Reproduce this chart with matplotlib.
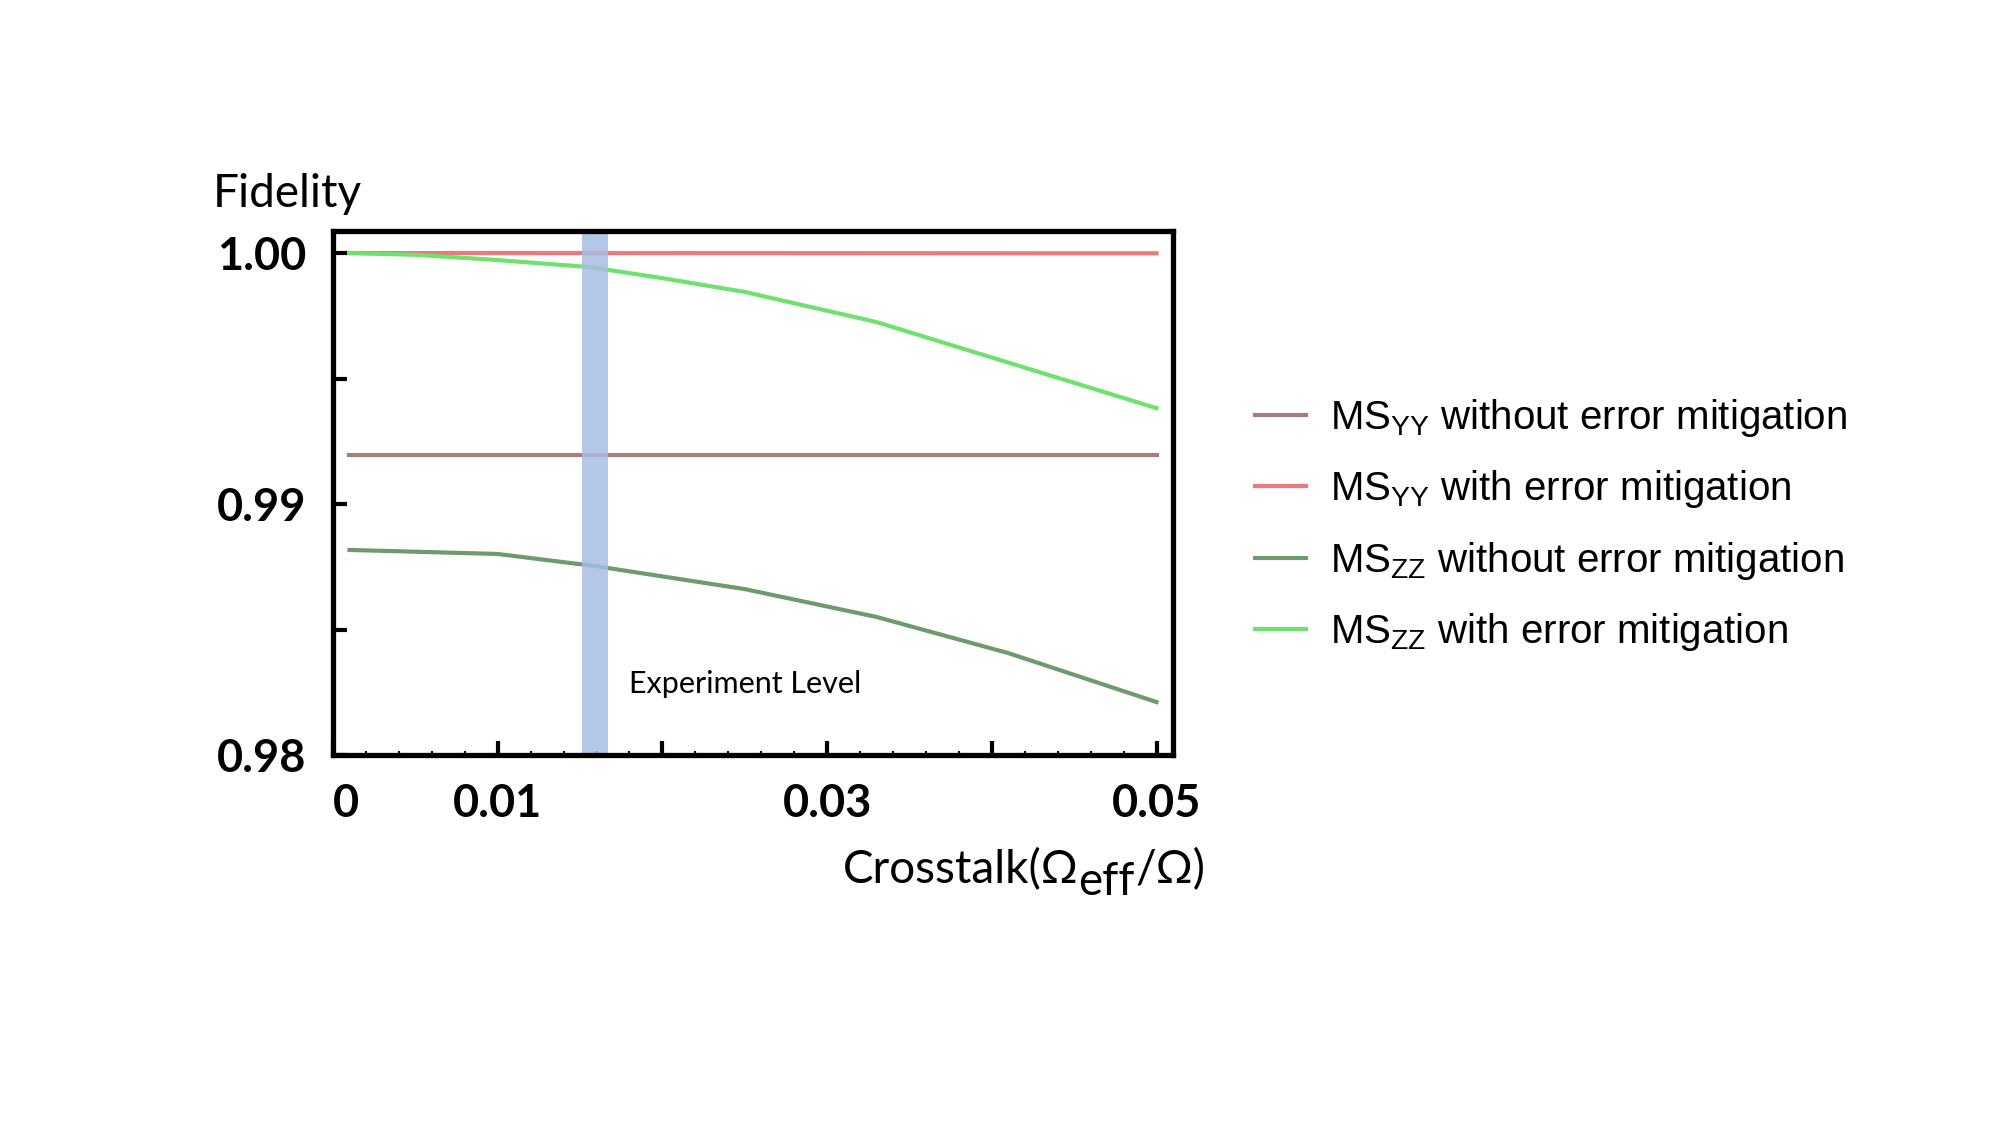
import matplotlib
matplotlib.use("Agg")
import matplotlib.pyplot as plt
from matplotlib.ticker import MultipleLocator

plt.rcParams['mathtext.fontset'] = 'custom'
plt.rcParams['mathtext.rm'] = 'Liberation Sans'

# values
x_yy = [0.001, 0.050]
yy_without = [0.99195, 0.99195]
yy_with = [1.00000, 0.99999]

x_zz_without = [0.001, 0.010, 0.016, 0.025, 0.033, 0.041, 0.050]
zz_without = [0.98817, 0.98801, 0.98752, 0.98661, 0.98550, 0.98406, 0.98211]

x_zz_with = [0.001, 0.005, 0.010, 0.0156, 0.020, 0.025, 0.033, 0.050]
zz_with = [1.00000, 0.99993, 0.99972, 0.99944, 0.99900, 0.99845, 0.99725, 0.99382]

exp_level = (0.0151, 0.0167)

labels = [r'MS$_{\mathrm{YY}}$ without error mitigation',
          r'MS$_{\mathrm{YY}}$ with error mitigation',
          r'MS$_{\mathrm{ZZ}}$ without error mitigation',
          r'MS$_{\mathrm{ZZ}}$ with error mitigation']
colors = ['#a57d7d', '#eb787d', '#6e9b6e', '#6ee16e']

xticks = [0, 0.01, 0.02, 0.03, 0.04, 0.05]
xticklabels = ['0', '0.01', '', '0.03', '', '0.05']
yticks = [0.98, 0.985, 0.99, 0.995, 1.00]
yticklabels = ['0.98', '', '0.99', '', '1.00']

W, H = 2000, 1125
fig = plt.figure(figsize=(20, 11.25), dpi=100)
ax = fig.add_axes([0.1665, 0.3289, 0.42, 0.4658])

lw = 3
l1, = ax.plot(x_yy, yy_without, color=colors[0], lw=lw)
l2, = ax.plot(x_yy, yy_with, color=colors[1], lw=lw)
l3, = ax.plot(x_zz_without, zz_without, color=colors[2], lw=lw)
l4, = ax.plot(x_zz_with, zz_with, color=colors[3], lw=lw)

ax.axvspan(exp_level[0], exp_level[1], color='#a7bde3', alpha=0.85, lw=0, zorder=2.2)
ax.text(0.0180, 0.98247, 'Experiment Level', fontsize=22, family='Lato')

ax.set_xlim(0, 0.0510)
ax.set_ylim(0.98, 1.00088)
ax.set_xticks(xticks)
ax.set_xticklabels(xticklabels)
ax.xaxis.set_minor_locator(MultipleLocator(0.002))
ax.set_yticks(yticks)
ax.set_yticklabels(yticklabels)

for s in ax.spines.values():
    s.set_linewidth(3.8)
ax.tick_params(which='major', direction='in', length=10, width=3)
ax.tick_params(which='minor', direction='in', length=3, width=1.5)
ax.tick_params(axis='x', pad=20)
ax.tick_params(axis='y', pad=19)
for t in ax.get_xticklabels() + ax.get_yticklabels():
    t.set_fontfamily('Lato')
    t.set_fontweight('bold')
    t.set_fontsize(32.5)
ax.get_xticklabels()[0].set_ha('left')

fig.text(0.1065, 0.816, 'Fidelity', fontsize=33, family='Lato', va='baseline')

# x label: subscript "eff" is the same size as the rest, only lowered
renderer = fig.canvas.get_renderer()
xr, yb = 1205 / W, 1 - 883 / H
parts = [('/Ω)', 0), ('eff', 12), ('Crosstalk(Ω', 0)]
for txt, drop in parts:
    t = fig.text(xr, yb - drop / H, txt, fontsize=33, family='Lato',
                 ha='right', va='baseline')
    bb = t.get_window_extent(renderer)
    xr = bb.x0 / W

fig.legend([l1, l2, l3, l4], labels, loc='center left',
           bbox_to_anchor=(0.6275, 0.5333), frameon=False,
           prop={'family': 'Liberation Sans', 'size': 29},
           handlelength=1.27, handletextpad=0.6, labelspacing=0.73,
           borderpad=0, borderaxespad=0)

fig.savefig('out.png', dpi=100)
